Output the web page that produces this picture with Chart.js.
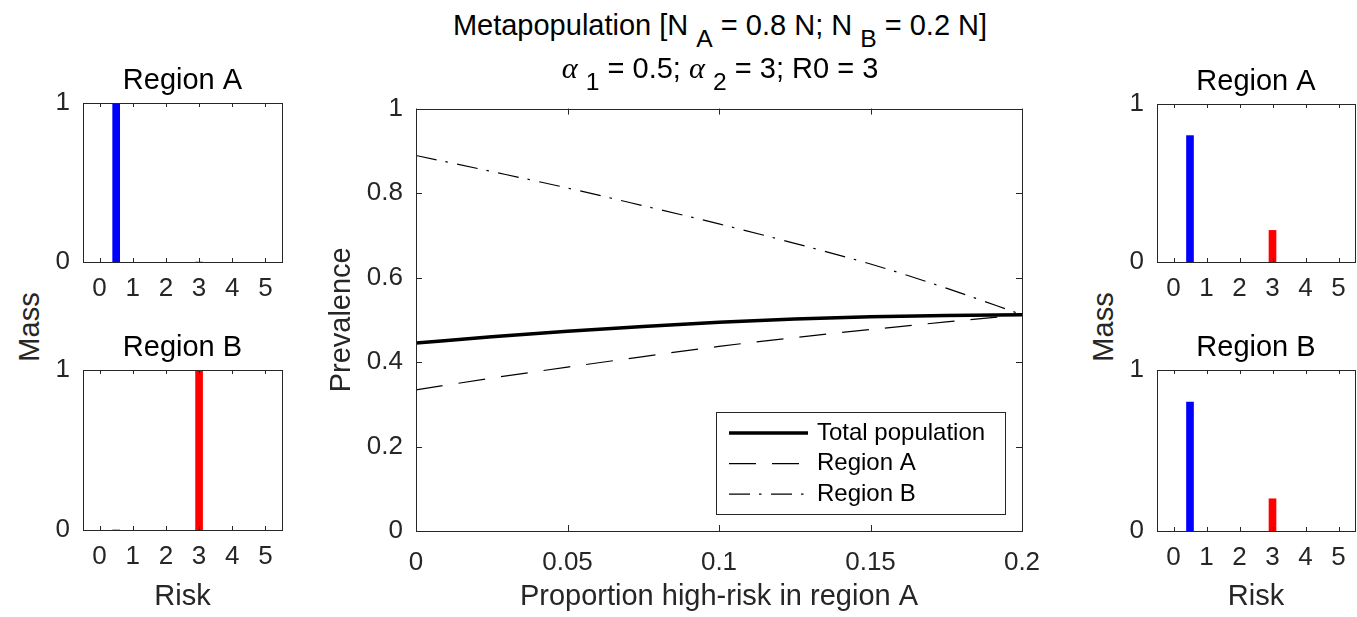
<!DOCTYPE html>
<html>
<head>
<meta charset="utf-8">
<script src="https://cdn.jsdelivr.net/npm/chart.js@4.4.0/dist/chart.umd.min.js"></script>
<style>
  body { margin: 0; background: #fff; width: 1357px; height: 617px; position: relative; overflow: hidden;
         font-family: 'Liberation Sans', Arial, Helvetica, sans-serif; }
  canvas { position: absolute; }
  .sup { position: absolute; left: 300px; width: 840px; text-align: center; font-size: 29px;
         line-height: 29px; color: #000; white-space: nowrap; z-index: 2; }
  .sb { position: relative; top: 12px; font-size: 0.85em; }
  .gr { font-family: 'Liberation Serif', 'DejaVu Serif', serif; font-style: italic; font-size: 1.05em; }
  .ylab { position: absolute; font-size: 29px; line-height: 29px; color: #262626; white-space: nowrap;
          transform: translate(-50%, -50%) rotate(-90deg); }
</style>
</head>
<body>
<div class="sup" style="top:11px">Metapopulation [N <span class="sb">A</span> = 0.8 N; N <span class="sb">B</span> = 0.2 N]</div>
<div class="sup" style="top:54px"><span class="gr">α</span> <span class="sb">1</span> = 0.5; <span class="gr">α</span> <span class="sb">2</span> = 3; R0 = 3</div>
<div class="ylab" style="left:29px;top:327px">Mass</div>
<div class="ylab" style="left:1103px;top:327px">Mass</div>

<canvas id="leftA" width="300" height="250" style="left:0;top:60px"></canvas>
<canvas id="leftB" width="300" height="297" style="left:0;top:320px"></canvas>
<canvas id="main" width="767" height="537" style="left:300px;top:80px"></canvas>
<canvas id="rightA" width="277" height="250" style="left:1080px;top:60px"></canvas>
<canvas id="rightB" width="277" height="297" style="left:1080px;top:320px"></canvas>

<script>
// --- data ---
const riskLevels = [0.5, 3];
const riskTicks = [0, 1, 2, 3, 4, 5];
const massTicks = [0, 1];
const leftMassA = [1, 0];
const leftMassB = [0, 1];
const rightMassA = [0.8, 0.2];
const rightMassB = [0.8, 0.2];
const barColors = ['#0000ff', '#ff0000'];

const propHighRisk = [0, 0.025, 0.05, 0.075, 0.1, 0.125, 0.15, 0.175, 0.2];
const prevTotal   = [0.445, 0.460, 0.473, 0.484, 0.494, 0.502, 0.507, 0.510, 0.512];
const prevRegionA = [0.334, 0.362, 0.388, 0.413, 0.437, 0.458, 0.477, 0.495, 0.512];
const prevRegionB = [0.889, 0.851, 0.812, 0.770, 0.727, 0.681, 0.632, 0.575, 0.512];
const propTicks = [0, 0.05, 0.1, 0.15, 0.2];
const propTickLabels = ['0', '0.05', '0.1', '0.15', '0.2'];
const prevTicks = [0, 0.2, 0.4, 0.6, 0.8, 1];
const prevTickLabels = ['0', '0.2', '0.4', '0.6', '0.8', '1'];

const FONT = "'Liberation Sans', Arial, Helvetica, sans-serif";
Chart.defaults.font.family = FONT;
Chart.defaults.font.size = 26;
Chart.defaults.color = '#262626';

// matlab style box with inward ticks on all four sides
const framePlugin = {
    id: 'frame',
    afterDatasetsDraw(chart, args, opts) {
        const { ctx, chartArea: a, scales: { x, y } } = chart;
        const len = opts.tickLen || 4;
        ctx.save();
        ctx.strokeStyle = '#262626';
        ctx.lineWidth = 1;
        ctx.beginPath();
        x.ticks.forEach(t => {
            const px = Math.round(x.getPixelForValue(t.value)) + 0.5;
            ctx.moveTo(px, a.bottom); ctx.lineTo(px, a.bottom - len);
            ctx.moveTo(px, a.top); ctx.lineTo(px, a.top + len);
        });
        y.ticks.forEach(t => {
            const py = Math.round(y.getPixelForValue(t.value)) + 0.5;
            ctx.moveTo(a.left, py); ctx.lineTo(a.left + len, py);
            ctx.moveTo(a.right, py); ctx.lineTo(a.right - len, py);
        });
        ctx.stroke();
        ctx.strokeRect(Math.round(a.left) + 0.5, Math.round(a.top) + 0.5, Math.round(a.width), Math.round(a.height));
        ctx.restore();
    }
};

// legend box in lower right of the main plot
const boxLegend = {
    id: 'boxLegend',
    afterDatasetsDraw(chart) {
        const { ctx, chartArea: a } = chart;
        const w = 289, h = 102;
        const left = Math.round(a.right - 17 - w), top = Math.round(a.bottom - 17 - h);
        ctx.save();
        ctx.fillStyle = '#fff';
        ctx.fillRect(left, top, w, h);
        ctx.strokeStyle = '#262626';
        ctx.lineWidth = 1;
        ctx.strokeRect(left + 0.5, top + 0.5, w, h);
        chart.data.datasets.forEach((ds, i) => {
            const yy = top + 21 + i * 30.6;
            ctx.beginPath();
            ctx.setLineDash(ds.borderDash || []);
            ctx.lineWidth = ds.borderWidth;
            ctx.strokeStyle = ds.borderColor;
            ctx.moveTo(left + 13, yy);
            ctx.lineTo(left + 92, yy);
            ctx.stroke();
            ctx.setLineDash([]);
            ctx.fillStyle = '#000';
            ctx.font = '24px ' + FONT;
            ctx.textBaseline = 'middle';
            ctx.fillText(ds.label, left + 101, yy);
        });
        ctx.restore();
    }
};

function setTicks(values) {
    return s => { s.ticks = values.map(v => ({ value: v })); };
}

function massChart(id, masses, cfg) {
    return new Chart(document.getElementById(id), {
        type: 'bar',
        data: {
            datasets: [{
                data: riskLevels.map((r, i) => ({ x: r, y: masses[i] })),
                backgroundColor: barColors,
                borderWidth: 0,
                barThickness: 7
            }]
        },
        options: {
            responsive: false,
            animation: false,
            layout: { autoPadding: false, padding: { right: cfg.padRight } },
            plugins: {
                legend: { display: false },
                tooltip: { enabled: false },
                title: {
                    display: true, text: cfg.title, fullSize: false, color: '#000',
                    font: { size: 29, weight: 'normal' },
                    padding: { top: cfg.titleTop, bottom: 4.6 }
                },
                frame: { tickLen: 4 }
            },
            scales: {
                x: {
                    type: 'linear', min: -0.5, max: 5.5, offset: false,
                    afterBuildTicks: setTicks(riskTicks),
                    afterFit: s => { s.height = cfg.xHeight; },
                    grid: { display: false, drawTicks: false },
                    border: { display: false },
                    ticks: { padding: 11, autoSkip: false, maxRotation: 0, callback: v => String(v) },
                    title: {
                        display: !!cfg.xTitle, text: cfg.xTitle, font: { size: 29 },
                        padding: { top: 0, bottom: 2.6 }
                    }
                },
                y: {
                    min: 0, max: 1,
                    afterBuildTicks: setTicks(massTicks),
                    afterFit: s => { s.width = cfg.yWidth; },
                    grid: { display: false, drawTicks: false },
                    border: { display: false },
                    ticks: { padding: 13, callback: v => String(v) }
                }
            }
        },
        plugins: [framePlugin]
    });
}

massChart('leftA', leftMassA, { title: 'Region A', titleTop: 3.6, xHeight: 48, yWidth: 83, padRight: 18 });
massChart('leftB', leftMassB, { title: 'Region B', titleTop: 10.6, xHeight: 87, yWidth: 83, padRight: 18, xTitle: 'Risk' });
massChart('rightA', rightMassA, { title: 'Region A', titleTop: 4.6, xHeight: 48, yWidth: 77, padRight: 2 });
massChart('rightB', rightMassB, { title: 'Region B', titleTop: 10.6, xHeight: 86, yWidth: 77, padRight: 2, xTitle: 'Risk' });

// --- main prevalence chart ---
new Chart(document.getElementById('main'), {
    type: 'line',
    data: {
        datasets: [
            {
                label: 'Total population',
                data: propHighRisk.map((p, i) => ({ x: p, y: prevTotal[i] })),
                borderColor: '#000', borderWidth: 3.5
            },
            {
                label: 'Region A',
                data: propHighRisk.map((p, i) => ({ x: p, y: prevRegionA[i] })),
                borderColor: '#000', borderWidth: 1.2, borderDash: [27, 16]
            },
            {
                label: 'Region B',
                data: propHighRisk.map((p, i) => ({ x: p, y: prevRegionB[i] })),
                borderColor: '#000', borderWidth: 1.2, borderDash: [21, 9, 2.5, 9.5]
            }
        ]
    },
    options: {
        responsive: false,
        animation: false,
        layout: { autoPadding: false, padding: { top: 23, right: 45 } },
        elements: { point: { radius: 0 }, line: { cubicInterpolationMode: 'monotone' } },
        plugins: {
            legend: { display: false },
            tooltip: { enabled: false },
            frame: { tickLen: 6 }
        },
        scales: {
            x: {
                type: 'linear', min: 0, max: 0.2,
                afterBuildTicks: setTicks(propTicks),
                afterFit: s => { s.height = 86; },
                grid: { display: false, drawTicks: false },
                border: { display: false },
                ticks: { padding: 16, autoSkip: false, maxRotation: 0, callback: (v, i) => propTickLabels[i] },
                title: {
                    display: true, text: 'Proportion high-risk in region A', font: { size: 29 },
                    padding: { top: 0, bottom: 2.6 }
                }
            },
            y: {
                min: 0, max: 1,
                afterBuildTicks: setTicks(prevTicks),
                afterFit: s => { s.width = 116; },
                grid: { display: false, drawTicks: false },
                border: { display: false },
                ticks: { padding: 13, callback: (v, i) => prevTickLabels[i] },
                title: {
                    display: true, text: 'Prevalence', font: { size: 29 },
                    padding: { top: 24.3, bottom: 0 }
                }
            }
        }
    },
    plugins: [framePlugin, boxLegend]
});
</script>
</body>
</html>
